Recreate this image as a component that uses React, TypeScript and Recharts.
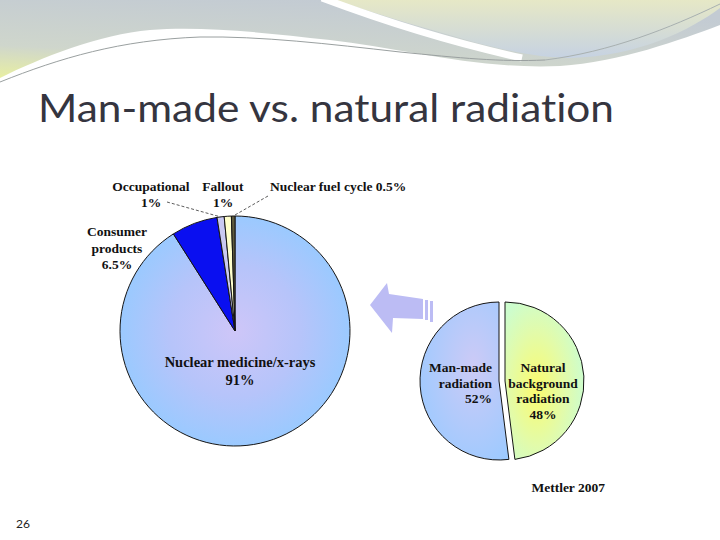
import React from "react";
import { PieChart, Pie, Cell } from "recharts";

// man-made exposure broken down by source (% of man-made dose)
const sourceNames = ["Nuclear medicine/x-rays", "Consumer products", "Occupational", "Fallout", "Nuclear fuel cycle"];
const sourceShares = [91, 6.5, 1, 1, 0.5];
const sourceColors = ["url(#medGrad)", "#0a0ff0", "#c9c9f2", "#ffffcc", "#5e5a3c"];

// total exposure split by origin
const originNames = ["Natural background radiation", "Man-made radiation"];
const originShares = [48, 52];
const originColors = ["url(#natGrad)", "url(#manGrad)"];

// how each name breaks onto lines in its label
const sourceLines = [["Nuclear medicine/x-rays"], ["Consumer", "products"], ["Occupational"], ["Fallout"], ["Nuclear fuel cycle"]];
const originLines = [["Natural", "background", "radiation"], ["Man-made", "radiation"]];

const titleText = "Man-made vs. natural radiation";
const sourceNote = "Mettler 2007";
const slideNumber = "26";

const sourceData = sourceNames.map((name, i) => ({ name, value: sourceShares[i] }));
const originData = originNames.map((name, i) => ({ name, value: originShares[i] }));

const BIG = { cx: 235, cy: 331, r: 115 };
const SMALL = { cx: 499, cy: 381, r: 79, shift: 6 };
const RAD = Math.PI / 180;
const SERIF = "'Liberation Serif', 'Times New Roman', serif";

type Spot = {
  dx: number;
  dy: number;
  anchor: "start" | "middle" | "end";
  size: number;
  lh: number;
  inline?: boolean;
  leader?: [number, number];
};

const sourceSpots: Spot[] = [
  { dx: 5, dy: 36, anchor: "middle", size: 14.5, lh: 18 },
  { dx: -118, dy: -95, anchor: "middle", size: 13.5, lh: 16.5 },
  { dx: -84, dy: -140, anchor: "middle", size: 13.5, lh: 16, leader: [-68, -129] },
  { dx: -12, dy: -140, anchor: "middle", size: 13.5, lh: 16 },
  { dx: 35, dy: -140, anchor: "start", size: 13.5, lh: 16, inline: true, leader: [33, -135] },
];

const originSpots: Spot[] = [
  { dx: 38, dy: -9, anchor: "middle", size: 13.5, lh: 15.5 },
  { dx: -7, dy: -9, anchor: "end", size: 13.5, lh: 15.5 },
];

function makeLabel(lines: string[][], spots: Spot[], only?: number) {
  return (p: any) => {
    if (only !== undefined && p.index !== only) return null;
    const s = spots[p.index];
    const x = p.cx + s.dx;
    const y = p.cy + s.dy;
    const pct = `${p.value}%`;
    const base = lines[p.index];
    const rows = s.inline ? [...base.slice(0, -1), `${base[base.length - 1]} ${pct}`] : [...base, pct];
    let leader = null;
    if (s.leader) {
      const ex = p.cx + p.outerRadius * Math.cos(-p.midAngle * RAD);
      const ey = p.cy + p.outerRadius * Math.sin(-p.midAngle * RAD);
      leader = (
        <line x1={p.cx + s.leader[0]} y1={p.cy + s.leader[1]} x2={ex} y2={ey} stroke="#333" strokeWidth={0.8} strokeDasharray="3 2" />
      );
    }
    return (
      <g key={`lab-${p.index}`}>
        {leader}
        <text x={x} y={y} textAnchor={s.anchor} fontFamily={SERIF} fontWeight="bold" fontSize={s.size} fill="#111">
          {rows.map((r, i) => (
            <tspan key={i} x={x} dy={i === 0 ? 0 : s.lh}>
              {r}
            </tspan>
          ))}
        </text>
      </g>
    );
  };
}

function Backdrop() {
  return (
    <svg width={720} height={540} style={{ position: "absolute", left: 0, top: 0 }}>
      <defs>
        <linearGradient id="waveL" x1="0" y1="1" x2="0.45" y2="0">
          <stop offset="0" stopColor="#e8efa2" />
          <stop offset="0.35" stopColor="#cfd6cc" />
          <stop offset="1" stopColor="#c3cbd3" />
        </linearGradient>
        <linearGradient id="waveR" x1="0" y1="0" x2="0" y2="1">
          <stop offset="0" stopColor="#e6e8c6" />
          <stop offset="1" stopColor="#c6d2e2" />
        </linearGradient>
      </defs>
      <rect x={0} y={0} width={720} height={540} fill="#ffffff" />
      <path d="M0,0 H720 V25 C680,40 620,62 560,66 C480,70 400,48 330,40 C260,32 200,26 150,30 C100,34 40,58 0,78 Z" fill="url(#waveL)" />
      <path d="M332,0 H720 V8 C690,30 640,56 570,58 C540,58 500,50 460,38 C410,24 370,12 335,0 Z" fill="url(#waveR)" />
      <path d="M322,-2 C370,16 440,40 522,58" stroke="#ffffff" strokeWidth={7} fill="none" />
      <path d="M0,82 C60,58 120,40 200,37 C260,36 330,44 400,52 C460,58 500,62 545,60" stroke="#9aa0a0" strokeWidth={1} fill="none" />
      <path d="M545,60 C610,52 670,28 720,4" stroke="#a8b0b0" strokeWidth={1} fill="none" />
      <text
        x={38}
        y={122}
        fontFamily="Lato, 'Open Sans', sans-serif"
        fontSize={38}
        fill="#35353f"
        textLength={576}
        lengthAdjust="spacingAndGlyphs"
        style={{ fontVariantLigatures: "none", fontFeatureSettings: "'liga' 0" }}
      >
        {titleText}
      </text>
      <polygon points="370,305 387,283 389,294 423,299 423,319 393,318 392,333" fill="#bcbcf4" />
      <polygon points="425,300 428,300 428,320 425,320" fill="#bcbcf4" />
      <polygon points="430,301 433,301 433,322 430,322" fill="#bcbcf4" />
      <text x={605} y={492} textAnchor="end" fontFamily={SERIF} fontWeight="bold" fontSize={13.5} fill="#111">
        {sourceNote}
      </text>
      <text x={16} y={528} fontFamily="Lato, sans-serif" fontSize={12} fill="#222">
        {slideNumber}
      </text>
    </svg>
  );
}

export default function App() {
  return (
    <div style={{ position: "absolute", left: 0, top: 0, width: 720, height: 540, overflow: "hidden" }}>
      <Backdrop />
      <div style={{ position: "absolute", left: 0, top: 0 }}>
        <PieChart width={720} height={540} margin={{ top: 0, right: 0, bottom: 0, left: 0 }}>
          <defs>
            <radialGradient id="medGrad" cx="50%" cy="50%" r="52%">
              <stop offset="0" stopColor="#cec6f8" />
              <stop offset="0.55" stopColor="#b6c4fa" />
              <stop offset="1" stopColor="#98caff" />
            </radialGradient>
            <radialGradient id="manGrad" cx="60%" cy="40%" r="70%">
              <stop offset="0" stopColor="#cccaf6" />
              <stop offset="1" stopColor="#9ccaff" />
            </radialGradient>
            <radialGradient id="natGrad" cx="40%" cy="55%" r="60%">
              <stop offset="0" stopColor="#fbfb6e" />
              <stop offset="0.6" stopColor="#e2fbaa" />
              <stop offset="1" stopColor="#cdfdcd" />
            </radialGradient>
          </defs>
          <Pie
            data={sourceData}
            dataKey="value"
            nameKey="name"
            cx={BIG.cx}
            cy={BIG.cy}
            outerRadius={BIG.r}
            startAngle={90}
            endAngle={-270}
            isAnimationActive={false}
            labelLine={false}
            label={makeLabel(sourceLines, sourceSpots)}
          >
            {sourceData.map((d, i) => (
              <Cell key={d.name} fill={sourceColors[i]} stroke="#151515" strokeWidth={1} />
            ))}
          </Pie>
          <Pie
            data={originData}
            dataKey="value"
            nameKey="name"
            cx={SMALL.cx}
            cy={SMALL.cy}
            outerRadius={SMALL.r}
            startAngle={90}
            endAngle={-270}
            isAnimationActive={false}
            labelLine={false}
            label={makeLabel(originLines, originSpots, 1)}
          >
            {originData.map((d, i) => (
              <Cell key={d.name} fill={i === 1 ? originColors[i] : "none"} stroke={i === 1 ? "#151515" : "none"} strokeWidth={1} />
            ))}
          </Pie>
          <Pie
            data={originData}
            dataKey="value"
            nameKey="name"
            cx={SMALL.cx + SMALL.shift}
            cy={SMALL.cy}
            outerRadius={SMALL.r}
            startAngle={90}
            endAngle={-270}
            isAnimationActive={false}
            labelLine={false}
            label={makeLabel(originLines, originSpots, 0)}
          >
            {originData.map((d, i) => (
              <Cell key={d.name} fill={i === 0 ? originColors[i] : "none"} stroke={i === 0 ? "#151515" : "none"} strokeWidth={1} />
            ))}
          </Pie>
        </PieChart>
      </div>
    </div>
  );
}
